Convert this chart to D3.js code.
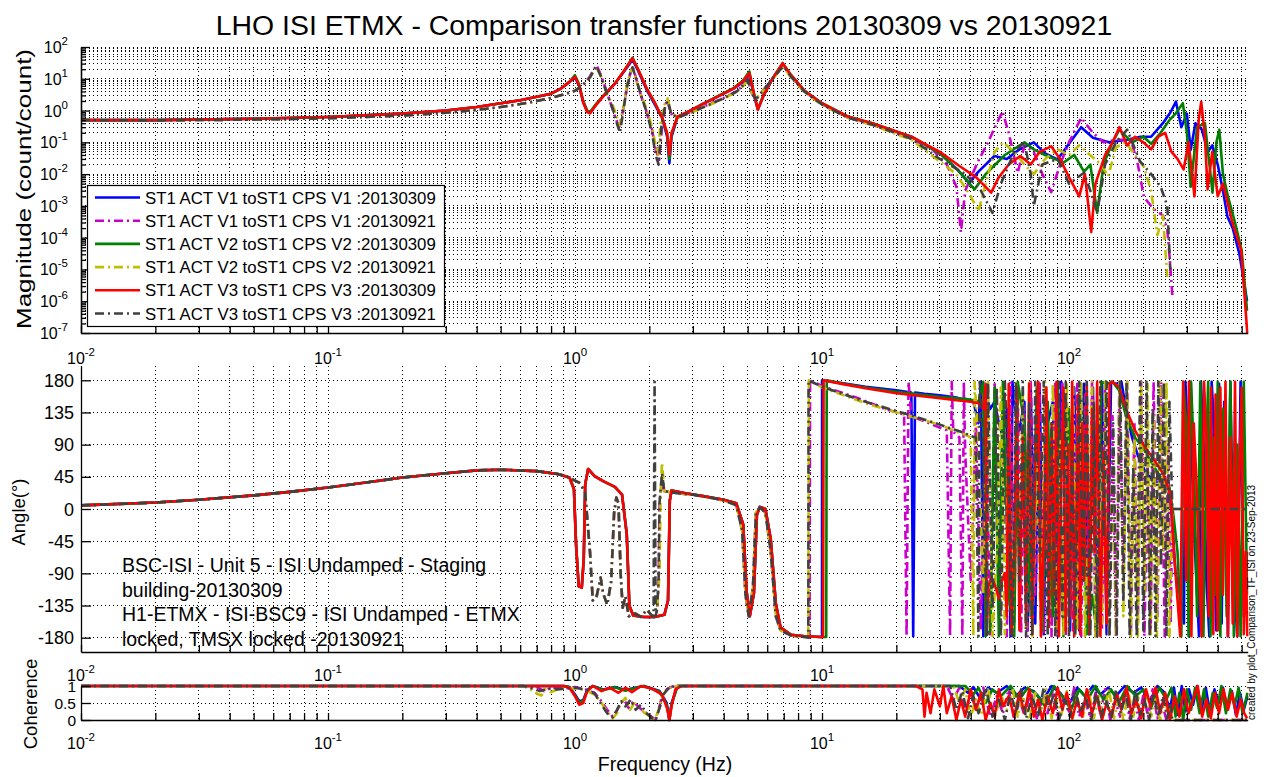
<!DOCTYPE html>
<html>
<head>
<meta charset="utf-8">
<script src="https://cdn.jsdelivr.net/npm/d3@7"></script>
<style>
  body { margin: 0; background: #fff; }
  svg { display: block; }
  text { font-family: "Liberation Sans", Arial, sans-serif; fill: #000; }
</style>
</head>
<body>
<svg id="chart" width="1281" height="777"></svg>
<script>
// ---- series info ----
const seriesNames = [
  'ST1 ACT V1 toST1 CPS V1 :20130309',
  'ST1 ACT V1 toST1 CPS V1 :20130921',
  'ST1 ACT V2 toST1 CPS V2 :20130309',
  'ST1 ACT V2 toST1 CPS V2 :20130921',
  'ST1 ACT V3 toST1 CPS V3 :20130309',
  'ST1 ACT V3 toST1 CPS V3 :20130921'
];
const seriesColors = ['#0000ff', '#cc00cc', '#008000', '#bfbf00', '#ff0000', '#404040'];
const seriesDashed = [false, true, false, true, false, true];

const angleTicks = [-180, -135, -90, -45, 0, 45, 90, 135, 180];
const cohTicks = [0, 0.5, 1];
const noteLines = [
  'BSC-ISI - Unit 5 - ISI Undamped - Staging',
  'building-20130309',
  'H1-ETMX - ISI-BSC9 - ISI Undamped - ETMX',
  'locked, TMSX locked -20130921'
];

// ---- magnitude [Hz, count/count] ----
const magLowSolid = [[0.01,0.5],[0.02,0.5],[0.05,0.55],[0.1,0.63],[0.2,0.8],[0.3,1.0],[0.4,1.3],[0.5,1.7],[0.6,2.1],[0.7,2.7],[0.8,3.4],[0.88,5],[0.95,8]];
const magLowDash = [[0.01,0.5],[0.02,0.49],[0.05,0.52],[0.1,0.57],[0.2,0.7],[0.3,0.85],[0.4,1.05],[0.5,1.3],[0.6,1.6],[0.7,2.0],[0.8,2.5],[0.9,3.2],[1.0,4.2],[1.08,6.5]];

const magV1a = magLowSolid.concat([[1.0,11],[1.04,6],[1.08,1.8],[1.12,0.95],[1.16,0.9],[1.22,1.6],[1.32,3.2],[1.45,7],[1.58,17],[1.71,40],[1.8,18],[1.95,4.5],[2.1,1.6],[2.26,0.55],[2.36,0.15],[2.41,0.022],[2.46,0.15],[2.6,0.62],[2.9,0.95],[3.24,1.5],[3.8,2.8],[4.4,5],[4.8,8],[5.08,14],[5.3,3],[5.5,1.1],[5.8,3],[6.3,10],[6.93,29],[7.5,12],[8.5,4],[10,1.6],[12.7,0.64],[16,0.38],[23,0.15],[30,0.045],[35,0.015],[39.4,0.0053],[43,0.012],[49.9,0.037],[56,0.03],[63,0.06],[72,0.1],[80,0.045],[89.8,0.029],[100,0.09],[112,0.3],[125,0.14],[145,0.1],[172,0.12],[195,0.15],[215,0.15],[240,0.4],[258,0.9],[271,1.9],[285,0.3],[300,0.8],[311,0.058],[325,0.4],[345,0.25],[365,0.05],[380,0.08],[400,0.02],[420,0.003],[438,0.00046],[460,0.0002],[490,0.00003],[526,1e-6]]);
const magV1b = magLowDash.concat([[1.15,12],[1.22,27],[1.28,12],[1.35,3.5],[1.42,1.1],[1.47,0.5],[1.51,0.31],[1.56,0.9],[1.62,5],[1.67,14],[1.71,24],[1.77,10],[1.85,3],[1.95,0.9],[2.05,0.25],[2.12,0.06],[2.19,0.028],[2.25,0.3],[2.32,1.5],[2.37,2.2],[2.45,0.8],[2.6,0.6],[3.0,0.95],[3.5,1.6],[4.0,2.5],[4.5,4],[4.8,6.5],[5.0,10],[5.2,3.5],[5.4,2.2],[5.8,4.5],[6.3,10],[6.8,21],[7.0,25],[7.5,12],[8.5,4],[10,1.6],[12.7,0.6],[16,0.36],[23,0.13],[28,0.06],[32,0.02],[35,0.004],[36.5,0.00015],[38,0.003],[42.6,0.023],[47,0.1],[51,0.4],[53.8,0.93],[57,0.2],[62,0.011],[66,0.08],[72,0.05],[78,0.01],[84.7,0.0027],[92,0.02],[100,0.1],[112,0.59],[125,0.2],[138,0.1],[155,0.12],[178,0.12],[190,0.02],[201,0.0019],[220,0.0008],[240,0.0005],[250,0.00018],[256,0.00002],[262,1.5e-6]]);
const magV2a = magLowSolid.concat([[1.0,13],[1.04,6.5],[1.08,2],[1.12,1.0],[1.15,0.9],[1.2,1.4],[1.3,2.9],[1.45,7],[1.58,18],[1.71,46],[1.8,20],[1.95,5],[2.1,1.8],[2.26,0.56],[2.36,0.18],[2.41,0.03],[2.46,0.18],[2.6,0.63],[2.9,0.95],[3.24,1.5],[3.8,2.9],[4.4,5.2],[4.8,9],[5.08,17],[5.3,3.5],[5.5,1.1],[5.8,3.1],[6.3,10],[6.93,31],[7.5,13],[8.5,4.2],[10,1.7],[12.7,0.65],[16,0.4],[23,0.15],[30,0.045],[36,0.012],[41.4,0.0033],[46,0.01],[55,0.04],[66,0.1],[72,0.06],[80,0.04],[95,0.023],[105,0.04],[115,0.012],[122,0.02],[130,0.0006],[138,0.02],[150,0.1],[160,0.25],[180,0.1],[200,0.15],[215,0.09],[235,0.2],[255,0.5],[270,0.8],[289,1.7],[300,0.2],[311,0.004],[330,0.3],[355,0.4],[381,0.0026],[395,0.1],[406,0.25],[420,0.01],[440,0.002],[470,0.0003],[500,0.00004],[526,5e-7]]);
const magV2b = magLowDash.concat([[1.15,11],[1.22,24],[1.28,11],[1.35,3],[1.42,1.5],[1.47,0.7],[1.52,0.35],[1.57,1.2],[1.62,6],[1.67,15],[1.71,22],[1.77,9],[1.85,3.2],[1.95,1.1],[2.05,0.3],[2.12,0.08],[2.17,0.04],[2.22,0.4],[2.3,1.5],[2.37,2.4],[2.45,0.9],[2.6,0.6],[3.0,0.9],[3.5,1.5],[4.0,2.4],[4.5,3.8],[4.8,6],[5.0,9],[5.2,3.6],[5.4,2.4],[5.8,4.3],[6.3,9.5],[6.8,20],[7.0,23],[7.5,11],[8.5,3.8],[10,1.5],[12.7,0.6],[16,0.35],[23,0.12],[30,0.025],[35,0.01],[40,0.002],[43,0.00068],[46,0.005],[50,0.05],[54,0.1],[60,0.05],[66,0.02],[72,0.01],[80,0.03],[90,0.06],[100,0.04],[110,0.08],[123,0.037],[135,0.02],[144,0.0085],[155,0.07],[170,0.1],[185,0.04],[201,0.017],[215,0.003],[228,0.00012],[240,0.0005],[250,5.8e-6]]);
const magV3a = magLowSolid.concat([[1.0,11.6],[1.04,6],[1.08,1.8],[1.12,0.9],[1.15,0.82],[1.2,1.3],[1.3,2.8],[1.45,7],[1.58,18],[1.71,44],[1.8,20],[1.95,5],[2.1,1.8],[2.26,0.58],[2.36,0.2],[2.41,0.04],[2.46,0.2],[2.6,0.64],[2.9,0.95],[3.24,1.5],[3.8,2.8],[4.4,5],[4.8,8.5],[5.08,15],[5.3,3.5],[5.5,1.05],[5.8,3],[6.3,10],[6.93,31],[7.5,13],[8.5,4.2],[10,1.7],[12.7,0.65],[16,0.4],[23,0.15],[30,0.05],[36,0.018],[42,0.008],[48.4,0.0026],[52,0.008],[57,0.02],[63.5,0.037],[70,0.02],[76,0.05],[84.7,0.075],[92,0.03],[100,0.008],[110,0.002],[116,0.01],[123,0.00015],[128,0.005],[140,0.04],[150,0.1],[160,0.3],[172,0.08],[185,0.15],[200,0.1],[215,0.06],[230,0.15],[245,0.2],[260,0.05],[275,0.03],[291,0.014],[305,0.1],[322,0.002],[335,0.5],[343,1.9],[355,0.15],[364,0.0033],[380,0.05],[400,0.002],[420,0.005],[459,0.00029],[498,0.00004],[521,3.4e-7],[527,1e-7]]);
const magV3b = magLowDash.concat([[1.15,11],[1.22,25],[1.28,11],[1.35,3.2],[1.42,1.2],[1.47,0.45],[1.52,0.2],[1.57,1.0],[1.62,5],[1.67,14],[1.71,23],[1.77,9.5],[1.85,3],[1.95,0.9],[2.05,0.2],[2.12,0.04],[2.18,0.02],[2.24,0.35],[2.32,1.4],[2.37,2.0],[2.45,0.8],[2.6,0.6],[3.0,0.92],[3.5,1.55],[4.0,2.45],[4.5,3.9],[4.8,6.2],[5.0,9.5],[5.2,3.4],[5.4,2.3],[5.8,4.4],[6.3,9.8],[6.8,20],[7.0,24],[7.5,11.5],[8.5,3.9],[10,1.55],[12.7,0.6],[16,0.36],[23,0.13],[30,0.03],[38,0.01],[44,0.003],[49,0.0006],[53,0.005],[60,0.05],[66,0.1],[70,0.01],[72,0.001],[78,0.02],[90,0.03],[100,0.005],[115,0.011],[122,0.003],[130,0.0006],[140,0.02],[155,0.1],[172,0.25],[194,0.025],[215,0.01],[235,0.004],[250,0.001],[257,1e-5]]);

// ---- phase [Hz, deg] ----
const phaseLow = [[0.01,5],[0.02,9],[0.03,13],[0.05,19],[0.07,24],[0.1,30],[0.15,38],[0.2,44],[0.3,50],[0.4,54],[0.5,55],[0.7,53],[0.85,49]];
const phaseMidSolid = [[0.95,44],[0.99,28],[1.01,-50],[1.035,-108],[1.065,-110],[1.085,-70],[1.1,35],[1.13,56],[1.2,46],[1.3,39],[1.45,31],[1.55,20],[1.62,-35],[1.66,-135],[1.72,-149],[1.9,-151],[2.1,-151],[2.3,-148],[2.38,-128],[2.42,12],[2.46,26],[2.8,22],[3.3,18],[4.0,13],[4.5,8],[4.8,-22],[4.95,-115],[5.1,-150],[5.3,-118],[5.45,-8],[5.6,3],[5.9,0],[6.2,-42],[6.5,-132],[6.8,-166],[7.5,-176],[8.5,-178],[9.9,-179]];
const phaseMidDash = [[0.9,47],[0.97,42],[1.05,36],[1.1,22],[1.15,-60],[1.18,-128],[1.22,-124],[1.27,-96],[1.3,-118],[1.35,-134],[1.4,-102],[1.44,-5],[1.47,16],[1.5,8],[1.53,-90],[1.56,-138],[1.6,-122],[1.65,-150],[1.75,-146],[1.85,-151],[1.95,-141],[2.05,-149]];

const phaseV1a = phaseLow.concat(phaseMidSolid, [[10.0,-179],[10.01,180],[12,176],[15,171],[20,166],[23,163],[23.4,-178],[23.8,163],[26,161],[30,159],[35,156],[38,152],[41,150],[43,120],[44,178],[45,-178],[46,160],[48,140],[50,150],[52,120],[54,100],[56,140],[58,-178],[59,178],[61,130],[63,110],[66,150],[68,-170],[70,170],[73,-160],[76,175],[79,-175],[82,120],[86,150],[90,-178],[93,178],[97,140],[101,-170],[105,170],[110,-170],[115,175],[120,-175],[125,170],[130,-160],[136,175],[142,-175],[148,178],[155,175],[163,178],[170,140],[180,100],[190,75],[205,50],[220,40],[240,35],[255,20],[262,-20],[270,-90],[285,-125],[292,-160],[296,178],[300,130],[306,-178],[311,178],[316,60],[322,-40],[330,-120],[336,-178],[342,178],[350,100],[360,-100],[370,-178],[378,178],[386,120],[395,-170],[405,175],[415,-160],[425,150],[440,-178],[450,178],[465,-100],[480,-178],[495,178],[510,-150],[526,-60]]);
const phaseV1b = phaseLow.concat(phaseMidDash, [[2.1,-150],[2.15,-142],[2.18,-100],[2.2,8],[2.25,40],[2.3,25],[2.6,22],[3.0,20],[3.5,16],[4.0,12],[4.5,5],[4.75,-30],[4.9,-120],[5.05,-150],[5.25,-110],[5.4,-5],[5.6,2],[5.9,-5],[6.2,-60],[6.5,-150],[6.8,-170],[7.5,-177],[8.5,-179],[8.9,-180],[8.95,180],[10,172],[14,155],[18,140],[21.5,132],[22,-178],[22.4,178],[23,130],[28,118],[32,110],[33,-178],[33.5,178],[34,108],[36,100],[37,-178],[37.5,178],[38,80],[40,-100],[42,120],[44,-170],[46,170],[48,-178],[50,178],[52,-130],[54,150],[56,-178],[58,178],[60,-160],[62,170],[64,-175],[66,140],[68,-178],[70,178],[73,-120],[76,175],[79,-175],[82,100],[85,-178],[88,178],[91,-150],[94,178],[97,-178],[100,120],[104,-170],[108,175],[112,-178],[116,160],[120,-140],[124,178],[128,-178],[132,90],[136,-170],[140,175],[145,-175],[150,130],[155,-178],[160,178],[166,-90],[172,178],[178,-178],[184,120],[190,-160],[196,178],[202,-178],[208,60],[214,-178],[220,178],[228,-150],[236,178],[244,-178],[252,90],[258,-160],[262,0],[529,0]]);
const phaseV2a = phaseLow.concat(phaseMidSolid, [[10.4,-179],[10.45,180],[12,176],[15,170],[20,164],[25,160],[30,157],[35,155],[38,154],[41,152],[43,150],[45,178],[46,-178],[48,-170],[50,170],[52,-178],[54,178],[57,-120],[60,-178],[62,178],[66,120],[70,-150],[74,170],[78,-170],[82,150],[86,-150],[90,178],[95,-178],[100,140],[106,-90],[112,175],[118,-175],[124,-120],[130,-178],[135,178],[142,175],[150,178],[160,165],[170,130],[185,100],[200,85],[220,60],[240,40],[255,30],[265,-10],[275,-60],[285,-178],[290,178],[298,120],[305,-178],[312,178],[320,80],[330,-150],[340,178],[350,-178],[358,60],[366,178],[374,-178],[382,100],[392,-120],[400,178],[410,-178],[420,140],[435,-150],[450,178],[465,-178],[480,90],[495,-178],[510,178],[526,-120]]);
const phaseV2b = phaseLow.concat(phaseMidDash, [[2.1,-150],[2.15,-140],[2.2,-90],[2.22,20],[2.25,65],[2.3,25],[2.6,22],[3.0,20],[3.5,16],[4.0,12],[4.5,5],[4.75,-30],[4.9,-120],[5.05,-150],[5.25,-110],[5.4,-5],[5.6,2],[5.9,-5],[6.2,-60],[6.5,-150],[6.8,-170],[7.5,-177],[8.5,-179],[8.8,-180],[8.85,180],[10,170],[15,148],[20,135],[30,118],[35,108],[38,104],[40,100],[41,-178],[41.5,178],[43,95],[45,-120],[47,178],[49,-178],[51,-60],[53,170],[55,-175],[57,120],[59,-178],[61,178],[63,-90],[65,160],[67,-170],[69,178],[71,-178],[74,60],[77,-178],[80,178],[83,-140],[86,175],[89,-175],[92,100],[95,-178],[98,178],[101,-120],[104,170],[108,-170],[112,178],[116,-178],[120,-30],[124,178],[128,-178],[132,140],[136,-160],[140,178],[145,-178],[150,80],[155,-178],[160,178],[166,-150],[172,178],[178,-178],[184,100],[190,-178],[196,178],[202,-120],[208,175],[214,-175],[220,130],[227,-178],[234,178],[241,-60],[248,178],[255,-178],[262,0],[529,0]]);
const phaseV3a = phaseLow.concat(phaseMidSolid, [[10.1,-179],[10.15,180],[12,175],[15,169],[20,162],[25,158],[30,155],[35,152],[40,150],[43,148],[45,140],[46,175],[46.5,-175],[47,-110],[48.5,-95],[50,-105],[52,-125],[53.5,-100],[55,-90],[56,-150],[57,175],[58.5,-175],[60,-60],[61.5,170],[63,-170],[65,100],[67,-160],[69,175],[71,-175],[73,60],[75,178],[77,-178],[79,-40],[81,170],[83,-165],[85,120],[87,-120],[89,178],[91,-178],[93,30],[95,170],[97,-170],[99,90],[101,-150],[103,178],[105,-178],[107,-20],[109,160],[111,-175],[113,120],[115,-100],[118,175],[121,-175],[124,140],[127,-60],[130,178],[134,-178],[138,80],[142,-160],[146,175],[150,178],[160,170],[170,140],[185,110],[200,90],[220,70],[240,50],[258,20],[266,-60],[274,-120],[282,-178],[290,178],[298,-100],[306,178],[313,-178],[320,120],[328,40],[336,-80],[344,-178],[352,178],[360,100],[368,-150],[376,170],[384,-175],[392,160],[400,-170],[410,170],[420,-120],[430,178],[440,-178],[450,100],[460,-160],[470,178],[480,-178],[490,60],[500,170],[510,-175],[520,-60],[527,-178]]);
const phaseV3b = phaseLow.concat(phaseMidDash, [[2.08,-150],[2.1,178],[2.12,-150],[2.15,-140],[2.18,-100],[2.2,10],[2.25,50],[2.3,25],[2.6,22],[3.0,20],[3.5,16],[4.0,12],[4.5,5],[4.75,-30],[4.9,-120],[5.05,-150],[5.25,-110],[5.4,-5],[5.6,2],[5.9,-5],[6.2,-60],[6.5,-150],[6.8,-170],[7.5,-177],[8.5,-179],[8.8,-180],[8.82,180],[10,171],[15,150],[20,137],[25,127],[30,118],[35,110],[38,106],[40,102],[42,100],[43,-178],[43.5,178],[45,90],[46.5,-178],[47,178],[49,-140],[51,170],[53,-178],[55,178],[57,40],[59,-178],[61,178],[63,-100],[65,178],[67,-178],[69,150],[71,-178],[73,178],[76,-60],[79,178],[82,-178],[85,120],[88,-178],[91,178],[94,-150],[97,178],[100,-178],[103,80],[106,-178],[110,178],[114,-100],[118,178],[122,-178],[126,150],[130,-178],[134,178],[138,-40],[142,178],[146,-178],[151,120],[156,-178],[161,178],[166,-130],[171,178],[176,-178],[182,60],[188,-178],[194,178],[200,-170],[206,178],[212,-178],[218,140],[224,-178],[230,178],[236,-80],[242,178],[248,-178],[255,150],[262,0],[529,0]]);

// ---- coherence [Hz, 0..1] ----
const cohLowSolid = [[0.01,1],[0.9,1]];
const cohLowDash = [[0.01,1],[0.62,1]];
const cohV1a = cohLowSolid.concat([[0.95,0.97],[1.0,0.75],[1.04,0.55],[1.08,0.58],[1.12,0.88],[1.18,1],[1.3,0.9],[1.45,0.97],[1.6,0.88],[1.75,0.95],[1.9,1],[2.2,0.85],[2.35,0.5],[2.41,0],[2.46,0.5],[2.6,1],[36,1],[39,0.8],[41,0.97],[44,0.6],[47,0.95],[51,0.8],[56,1],[61,0.7],[66,0.95],[72,0.85],[78,0.55],[85,1],[92,0.8],[100,0.45],[108,0.95],[116,0.7],[125,1],[134,0.75],[144,0.95],[155,0.7],[168,1],[182,0.8],[196,0.95],[212,0.55],[228,1],[244,0.8],[256,0.3],[266,0.95],[276,0.15],[286,1],[296,0.25],[306,0.9],[318,0.45],[330,1],[344,0.3],[358,0.95],[372,0.2],[388,0.9],[404,0.5],[420,0.95],[438,0.3],[456,0.85],[474,0.15],[492,0.8],[510,0.3],[528,0.7]]);
const cohV1b = cohLowDash.concat([[0.66,0.92],[0.7,0.97],[0.75,0.85],[0.8,0.95],[0.9,0.92],[1.0,0.97],[1.1,0.9],[1.2,0.8],[1.28,0.55],[1.35,0.3],[1.42,0.1],[1.47,0.25],[1.52,0.45],[1.58,0.6],[1.65,0.35],[1.72,0.55],[1.8,0.4],[1.9,0.25],[2.0,0.15],[2.08,0.05],[2.12,0],[2.18,0.3],[2.25,0.7],[2.35,0.9],[2.5,1],[32,1],[34,0.6],[36,0.95],[38,0.2],[40,0.8],[42,0.3],[45,0.95],[48,0.1],[51,0.7],[54,0.2],[57,0.9],[60,0],[63,0.6],[66,0.15],[70,0.85],[74,0.05],[78,0.6],[82,0.2],[86,0.9],[90,0],[95,0.7],[100,0.25],[105,0.95],[110,0.1],[116,0.6],[122,0.05],[128,0.8],[134,0.2],[140,0.9],[147,0],[154,0.55],[161,0.1],[168,0.85],[176,0.05],[184,0.6],[192,0],[200,0.75],[209,0.1],[218,0.9],[228,0.05],[238,0.5],[248,0],[256,0.3],[262,0],[529,0]]);
const cohV2a = cohLowSolid.concat([[0.95,0.96],[1.0,0.72],[1.04,0.52],[1.08,0.56],[1.12,0.86],[1.18,1],[1.3,0.88],[1.45,0.96],[1.6,0.86],[1.75,0.94],[1.9,1],[2.2,0.83],[2.35,0.45],[2.41,0],[2.46,0.45],[2.6,1],[38,1],[41,0.75],[43,0.95],[46,0.5],[49,0.9],[53,0.7],[58,1],[63,0.6],[68,0.95],[74,0.75],[80,0.4],[87,1],[94,0.7],[102,0.3],[110,0.9],[119,0.6],[128,1],[138,0.6],[148,0.9],[159,0.5],[172,1],[186,0.7],[200,0.9],[216,0.4],[232,0.95],[248,0.6],[260,0.95],[270,0.1],[280,0.8],[290,0],[300,0.9],[312,0.3],[324,0.95],[338,0.2],[352,0.9],[366,0.1],[382,0.8],[398,0.35],[414,1],[432,0.2],[450,0.9],[468,0.4],[486,0.95],[504,0.2],[528,0.8]]);
const cohV2b = cohLowDash.concat([[0.66,0.9],[0.7,0.78],[0.73,0.72],[0.76,0.9],[0.8,0.82],[0.88,0.95],[1.0,0.93],[1.1,0.88],[1.2,0.75],[1.28,0.5],[1.35,0.25],[1.42,0.05],[1.48,0.2],[1.53,0.5],[1.6,0.65],[1.67,0.3],[1.74,0.5],[1.82,0.35],[1.92,0.2],[2.02,0.1],[2.1,0.02],[2.17,0.25],[2.24,0.65],[2.34,0.88],[2.5,1],[34,1],[36,0.5],[38,0.9],[40,0.1],[42,0.6],[44,0.15],[47,0.9],[50,0.05],[53,0.75],[56,0.3],[59,0.95],[62,0.1],[65,0.7],[69,0],[73,0.8],[77,0.2],[81,0.9],[85,0.05],[89,0.6],[93,0.15],[98,0.85],[103,0],[108,0.65],[114,0.1],[120,0.9],[126,0.05],[132,0.7],[138,0.15],[145,0.9],[152,0.05],[159,0.6],[166,0],[174,0.8],[182,0.1],[190,0.7],[198,0.05],[206,0.85],[215,0.1],[224,0.6],[234,0],[244,0.7],[252,0.1],[258,0.4],[262,0],[529,0]]);
const cohV3a = cohLowSolid.concat([[0.95,0.95],[1.0,0.7],[1.04,0.45],[1.08,0.5],[1.12,0.85],[1.18,1],[1.28,0.85],[1.38,0.95],[1.5,0.8],[1.6,0.95],[1.7,0.82],[1.85,1],[2.05,0.92],[2.25,0.75],[2.37,0.3],[2.41,0],[2.46,0.4],[2.55,0.9],[2.7,1],[24,1],[25.5,0.9],[26,0.1],[26.5,0.8],[27.5,0.2],[28.5,0.9],[30,0.4],[31,1],[32,0.2],[33.5,0.7],[35,0],[36.5,0.6],[38,0.1],[40,0.9],[42,0.3],[44,0.8],[46,0],[48,0.5],[50,0.1],[52,0.9],[54,0.4],[57,0.7],[60,0.1],[63,0.8],[66,0.2],[69,0.9],[72,0.1],[75,0.6],[78,0],[82,0.7],[86,0.2],[90,0.95],[94,0.3],[98,0.8],[103,0.05],[108,0.6],[113,0.1],[118,0.9],[124,0.2],[130,0.7],[136,0],[142,0.5],[149,0.1],[156,0.8],[163,0.3],[171,0.95],[179,0.2],[187,0.6],[196,0.05],[205,0.9],[214,0.4],[224,0.95],[234,0.2],[245,0.8],[256,0],[268,0.7],[280,0.1],[292,0.9],[305,0.2],[318,0.6],[332,1],[346,0.1],[360,0.6],[375,0.05],[390,0.8],[405,0.2],[422,0.9],[440,0.3],[458,0.8],[477,0.1],[496,0.6],[512,0.2],[526,0.05]]);
const cohV3b = cohLowDash.concat([[0.66,0.95],[0.72,0.85],[0.78,0.93],[0.85,0.9],[1.0,0.95],[1.1,0.9],[1.2,0.78],[1.28,0.45],[1.35,0.2],[1.42,0.08],[1.48,0.3],[1.54,0.55],[1.6,0.4],[1.68,0.6],[1.76,0.3],[1.85,0.45],[1.95,0.2],[2.05,0.05],[2.12,0],[2.2,0.35],[2.28,0.75],[2.4,0.95],[2.55,1],[33,1],[35,0.3],[37,0.85],[39,0.05],[41,0.7],[43,0.2],[46,0.95],[49,0.1],[52,0.6],[55,0],[58,0.8],[61,0.2],[64,0.9],[67,0.05],[71,0.7],[75,0.1],[79,0.95],[83,0.3],[87,0.8],[91,0],[96,0.6],[101,0.1],[106,0.9],[111,0.2],[117,0.7],[123,0],[129,0.85],[135,0.1],[141,0.6],[148,0.05],[155,0.9],[162,0.2],[170,0.75],[178,0],[186,0.9],[194,0.15],[202,0.6],[211,0],[220,0.8],[230,0.1],[240,0.7],[250,0.05],[257,0.5],[262,0],[529,0]]);

const magData = [magV1a, magV1b, magV2a, magV2b, magV3a, magV3b];
const phaseData = [phaseV1a, phaseV1b, phaseV2a, phaseV2b, phaseV3a, phaseV3b];
const cohData = [cohV1a, cohV1b, cohV2a, cohV2b, cohV3a, cohV3b];

// ---- scales ----
const svg = d3.select('#chart');
const x = d3.scaleLog().domain([0.01, 529]).range([81, 1247.7]);
const xTicksAll = x.ticks();
const isPow = v => Math.abs(Math.log10(v) - Math.round(Math.log10(v))) < 1e-9;
const xMajor = xTicksAll.filter(isPow);

const yMag = d3.scaleLog().domain([1e-7, 1e2]).range([333, 47]);
const yAng = d3.scaleLinear().domain([-200, 200]).range([652, 366]);
const yCoh = d3.scaleLinear().domain([0, 1]).range([720, 686]);

const X0 = x.range()[0], X1 = x.range()[1];
const defs = svg.append('defs');

function gridLines(g, top, bottom, yVals, yScale) {
  const grid = g.append('g').attr('stroke', '#000').attr('stroke-width', 1)
    .attr('stroke-dasharray', '1,3').attr('shape-rendering', 'crispEdges');
  xTicksAll.forEach(v => {
    grid.append('line').attr('x1', x(v)).attr('x2', x(v)).attr('y1', top).attr('y2', bottom);
  });
  yVals.forEach(v => {
    grid.append('line').attr('x1', X0).attr('x2', X1).attr('y1', yScale(v)).attr('y2', yScale(v));
  });
}

function drawSeries(g, id, top, bottom, yScale, data, keep) {
  defs.append('clipPath').attr('id', id).append('rect')
    .attr('x', X0).attr('y', top - 2).attr('width', X1 - X0 + 1).attr('height', bottom - top + 4);
  const lines = g.append('g').attr('clip-path', `url(#${id})`);
  data.forEach((s, i) => {
    const line = d3.line().x(d => x(d[0])).y(d => yScale(d[1]));
    lines.append('path')
      .datum(s.filter(keep))
      .attr('d', line)
      .attr('fill', 'none')
      .attr('stroke', seriesColors[i])
      .attr('stroke-width', 2.6)
      .attr('stroke-linejoin', 'round')
      .attr('stroke-dasharray', seriesDashed[i] ? '9,4,2,4' : null);
  });
}

function axisStyle(a) {
  a.selectAll('path,line').attr('stroke', '#000').attr('stroke-width', 1.3);
}

function xAxis(g, bottom) {
  g.append('g').attr('transform', `translate(0,${bottom})`)
    .call(d3.axisBottom(x).tickValues(xTicksAll).tickSize(-7).tickSizeOuter(0).tickFormat(''))
    .call(axisStyle);
}

function powLabel(g, px, py, e, anchor) {
  const t = g.append('text').attr('x', px).attr('y', py).attr('text-anchor', anchor).attr('font-size', 16);
  t.append('tspan').text('10');
  t.append('tspan').attr('dy', -8).attr('font-size', 11.5).text(e);
}

function xLabels(g, baseline) {
  xMajor.forEach(v => powLabel(g, x(v), baseline, String(Math.round(Math.log10(v))), 'middle'));
}

// ---- title ----
svg.append('text').attr('x', 664).attr('y', 35).attr('text-anchor', 'middle')
  .attr('font-size', 28.4).text('LHO ISI ETMX - Comparison transfer functions 20130309 vs 20130921');

// ---- magnitude panel ----
const gMag = svg.append('g');
const magAll = yMag.ticks();
const magMajor = magAll.filter(isPow);
gridLines(gMag, 47, 333, magAll, yMag);
drawSeries(gMag, 'clip-mag', 47, 333, yMag, magData, d => d[1] > 0);
xAxis(gMag, 333);
gMag.append('g').attr('transform', `translate(${X0},0)`)
  .call(d3.axisLeft(yMag).tickValues(magAll.filter(v => !isPow(v))).tickSize(-5).tickSizeOuter(0).tickFormat(''))
  .call(axisStyle);
gMag.append('g').attr('transform', `translate(${X0},0)`)
  .call(d3.axisLeft(yMag).tickValues(magMajor).tickSize(-9).tickSizeOuter(0).tickFormat(''))
  .call(axisStyle);
magMajor.forEach(v => powLabel(gMag, 68, yMag(v) + 6, String(Math.round(Math.log10(v))), 'end'));
xLabels(gMag, 364);
svg.append('text').attr('transform', 'translate(31,189) rotate(-90)').attr('text-anchor', 'middle')
  .attr('font-size', 19.5).attr('textLength', 280).attr('lengthAdjust', 'spacingAndGlyphs')
  .text('Magnitude (count/count)');

// legend
const lg = svg.append('g');
lg.append('rect').attr('x', 87.5).attr('y', 185.5).attr('width', 357).attr('height', 141)
  .attr('fill', '#fff').attr('stroke', '#000').attr('stroke-width', 1.2);
seriesNames.forEach((name, i) => {
  const cy = 197.5 + i * 23.2;
  lg.append('line').attr('x1', 95).attr('x2', 140).attr('y1', cy).attr('y2', cy)
    .attr('stroke', seriesColors[i]).attr('stroke-width', 2.6)
    .attr('stroke-dasharray', seriesDashed[i] ? '9,4,2,4' : null);
  lg.append('text').attr('x', 145).attr('y', cy + 6).attr('font-size', 16.8).text(name);
});

// ---- phase panel ----
const gAng = svg.append('g');
gridLines(gAng, 366, 652, angleTicks, yAng);
drawSeries(gAng, 'clip-ang', 366, 652, yAng, phaseData, () => true);
xAxis(gAng, 652);
gAng.append('g').attr('transform', `translate(${X0},0)`)
  .call(d3.axisLeft(yAng).tickValues(angleTicks).tickSize(-10).tickSizeOuter(0).tickFormat(''))
  .call(axisStyle);
angleTicks.forEach(v => {
  gAng.append('text').attr('x', 74).attr('y', yAng(v) + 6.5).attr('text-anchor', 'end')
    .attr('font-size', 18).text(v);
});
xLabels(gAng, 681);
svg.append('text').attr('transform', 'translate(25,512) rotate(-90)').attr('text-anchor', 'middle')
  .attr('font-size', 18.5).text('Angle(\u00b0)');
noteLines.forEach((t, i) => {
  gAng.append('text').attr('x', 122).attr('y', 572 + i * 24.5).attr('font-size', 19.5).text(t);
});

// ---- coherence panel ----
const gCoh = svg.append('g');
gridLines(gCoh, 686, 720, [0.5, 1], yCoh);
drawSeries(gCoh, 'clip-coh', 686, 720, yCoh, cohData, () => true);
xAxis(gCoh, 720);
gCoh.append('g').attr('transform', `translate(${X0},0)`)
  .call(d3.axisLeft(yCoh).tickValues(cohTicks).tickSize(-10).tickSizeOuter(0).tickFormat(''))
  .call(axisStyle);
cohTicks.forEach(v => {
  gCoh.append('text').attr('x', 76).attr('y', yCoh(v) + 5.5).attr('text-anchor', 'end')
    .attr('font-size', 15.5).text(v);
});
xLabels(gCoh, 749);
svg.append('text').attr('transform', 'translate(37,704) rotate(-90)').attr('text-anchor', 'middle')
  .attr('font-size', 18.5).text('Coherence');
svg.append('text').attr('x', 665).attr('y', 771).attr('text-anchor', 'middle')
  .attr('font-size', 19.5).text('Frequency (Hz)');

// side note
svg.append('text').attr('transform', 'translate(1255,720) rotate(-90)')
  .attr('font-size', 10).text('created by plot_Comparison_TF_ISI on 23-Sep-2013');
</script>
</body>
</html>
